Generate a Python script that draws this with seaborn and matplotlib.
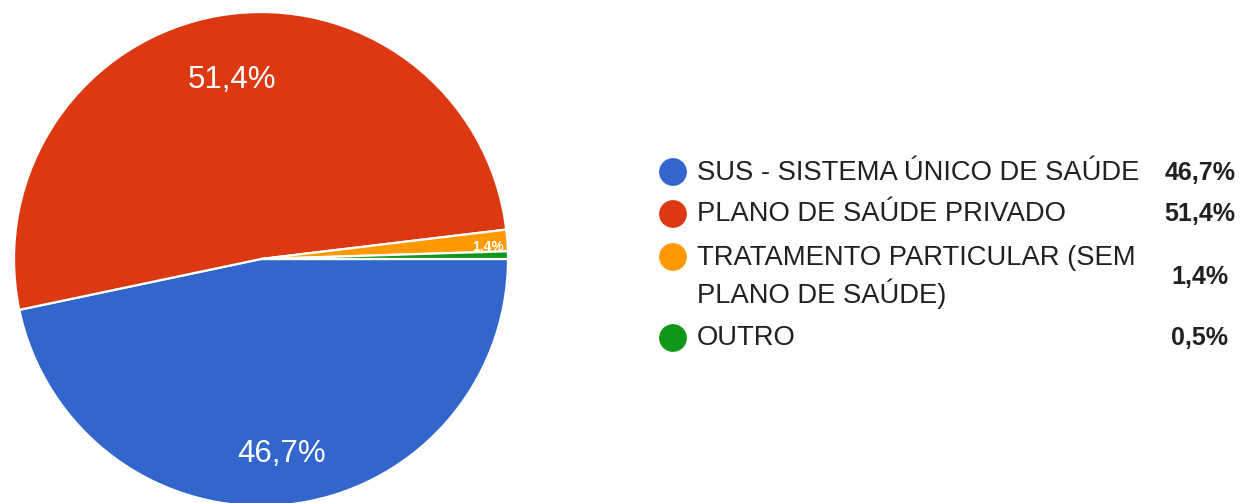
import numpy as np
import matplotlib
matplotlib.use("Agg")
import matplotlib.pyplot as plt
import seaborn as sns
import pandas as pd

categories = ["SUS - SISTEMA ÚNICO DE SAÚDE", "PLANO DE SAÚDE PRIVADO",
              "TRATAMENTO PARTICULAR (SEM\nPLANO DE SAÚDE)", "OUTRO"]
values = [46.7, 51.4, 1.4, 0.5]
value_labels = ["46,7%", "51,4%", "1,4%", "0,5%"]
colors = ["#3366CC", "#DC3912", "#FF9900", "#109618"]

sns.set_theme(style="white")
plt.rcParams['font.family'] = ['Liberation Sans', 'DejaVu Sans']

W, H = 1250, 503
fig = plt.figure(figsize=(W / 100, H / 100), dpi=100)
fig.patch.set_facecolor("white")

# pie axes
cx, cy, R = 261, 259, 247
ax = fig.add_axes([(cx - R) / W, (H - cy - R) / H, 2 * R / W, 2 * R / H])
wedges, _ = ax.pie(values, colors=colors, startangle=0, counterclock=False,
                   radius=1.0, wedgeprops=dict(edgecolor="white", linewidth=1.6))
ax.set_xlim(-1, 1)
ax.set_ylim(-1, 1)
ax.set_aspect("equal")
ax.axis("off")

label_cfg = {0: (0.795, 22.5, "normal"), 1: (0.735, 22.5, "normal"), 2: (0.92, 10, "bold")}
for i, w in enumerate(wedges):
    if i not in label_cfg:
        continue
    dist, fs, fw = label_cfg[i]
    ang = np.deg2rad((w.theta1 + w.theta2) / 2)
    ax.text(dist * np.cos(ang), dist * np.sin(ang) - (0.02 if i == 2 else 0),
            value_labels[i], color="white", ha="center", va="center",
            fontsize=fs, fontweight=fw)

# legend overlay in pixel coordinates
lax = fig.add_axes([0, 0, 1, 1])
row_y = [173, 214, 277, 338]
leg_df = pd.DataFrame({"x": [673] * 4, "y": [172, 214, 257, 338], "cat": categories})
sns.scatterplot(data=leg_df, x="x", y="y", hue="cat", palette=colors, s=400,
                edgecolor="none", legend=False, ax=lax)
lax.set_xlim(0, W)
lax.set_ylim(H, 0)
lax.axis("off")
for i, cat in enumerate(categories):
    lax.text(697, row_y[i], cat, ha="left", va="center", fontsize=19.75,
             color="#212121", linespacing=1.3)
    lax.text(1200, row_y[i], value_labels[i], ha="center", va="center",
             fontsize=18, color="#212121", fontweight="bold")

fig.savefig("out.png", dpi=100, facecolor="white")
